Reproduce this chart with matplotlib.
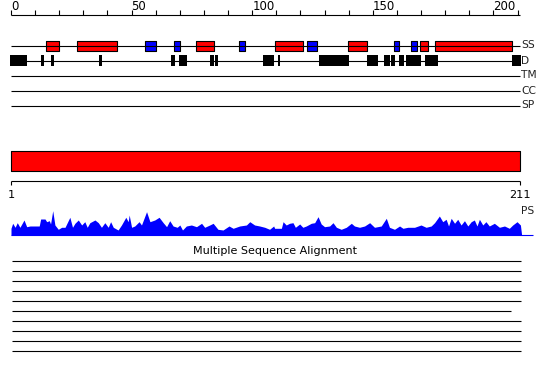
import matplotlib
matplotlib.use('Agg')
import matplotlib.pyplot as plt

# sequence length and ruler
seq_len = 211
ruler_ticks = list(range(0, 211, 10))
ruler_labels = [0, 50, 100, 150, 200]

# feature tracks
track_names = ['SS', 'D', 'TM', 'CC', 'SP']
helix = [(14.5, 19.8), (27.5, 43.8), (76.7, 84.0), (109.5, 120.9), (139.8, 147.7),
         (169.7, 173.0), (175.9, 207.8)]
strand = [(55.6, 60.0), (67.7, 70.1), (94.7, 97.0), (122.8, 126.7), (158.9, 161.0),
          (165.8, 168.3)]
disorder = [(-0.4, 6.5), (12.4, 13.6), (16.6, 17.7), (36.5, 37.6), (66.3, 67.9),
            (69.7, 72.8), (82.5, 84.0), (84.6, 85.8), (104.5, 109.0), (110.6, 111.6),
            (127.8, 140.0), (147.6, 152.0), (154.6, 157.1), (157.5, 159.2),
            (160.9, 162.9), (163.8, 169.9), (171.6, 176.9), (207.7, 211.3)]

# domain
dom_start, dom_end = 1, 211

# PS profile
ps_pos = [0, 0.7, 1.7, 2.6, 3.7, 5.4, 6.5, 7.9, 11.7, 12.3, 14.1, 14.8, 15.9, 16.4, 17.3,
          18.2, 19.6, 21.0, 22.4, 24.4, 25.5, 26.5, 27.9, 29.3, 30.6, 31.6, 32.7, 34.8,
          36.2, 37.5, 38.9, 40.3, 41.3, 42.4, 44.4, 45.8, 47.6, 48.6, 49.0, 50.0, 51.3,
          53.1, 54.1, 56.2, 57.6, 59.6, 61.4, 63.1, 64.5, 65.8, 67.2, 68.9, 70.0, 71.1,
          72.7, 74.8, 76.9, 79.0, 80.3, 82.4, 83.8, 85.8, 87.9, 90.4, 92.1, 94.8, 97.6,
          99.0, 101.0, 103.1, 105.2, 107.2, 108.9, 109.3, 112.1, 112.8, 114.1, 115.5,
          116.9, 117.9, 119.7, 121.0, 122.4, 124.5, 125.9, 127.3, 128.6, 130.0, 132.1,
          133.5, 134.9, 136.9, 139.0, 141.1, 142.4, 144.5, 146.6, 148.7, 150.7, 153.5,
          155.6, 156.9, 159.0, 161.1, 162.5, 164.5, 167.3, 170.0, 172.1, 174.2, 175.6,
          177.6, 179.0, 180.4, 181.4, 182.5, 183.9, 185.2, 186.6, 188.0, 189.4, 190.8,
          192.1, 193.2, 194.2, 195.6, 196.9, 198.3, 200.4, 202.5, 204.6, 206.6, 208.0,
          209.8, 211.2, 211.7]
ps_val = [6.7, 11.7, 7.7, 12.3, 7.7, 15, 8.3, 9, 9, 16, 16, 13.3, 14.3, 11, 24.3,
          10, 5.7, 7.7, 7.7, 17.7, 7.7, 11.7, 15, 10, 13.3, 7.7, 12.3, 15,
          12.3, 7.7, 12.3, 7.7, 13.3, 7.7, 5, 10, 17.7, 13.3, 20, 7.7, 9,
          13.3, 10, 23.3, 13.3, 15, 17.7, 12.3, 8.3, 14.3, 9, 7.7, 10, 5,
          9, 10, 8.3, 11.7, 7.7, 10, 11.7, 5.7, 5, 9, 6.7, 9, 10,
          13.3, 10, 9, 7.7, 5.7, 9, 6.7, 6.7, 13.3, 10, 11.7,
          12.3, 7.7, 11, 7.7, 9, 11.7, 12.3, 18.3, 11, 8.3, 9,
          12.3, 7.7, 5.7, 7.7, 11.7, 9, 7.7, 9, 12.3, 7.7, 9,
          16.7, 7.7, 5.7, 9, 6.7, 7.7, 7.7, 10, 7.7, 9, 12.3,
          19, 13.3, 15.7, 9, 16.7, 11.7, 15.7, 10, 14.3, 9, 13.3,
          15, 9, 15.7, 10, 13.3, 9, 11.7, 7.7, 9, 6.7, 10,
          13.3, 10, 0]

# alignment
aln_title = 'Multiple Sequence Alignment'
aln_end = [211.3, 211.3, 211.3, 211.3, 211.3, 207.3, 211.3, 211.3, 211.3, 211.3]

px_per_res = 2.412
fig = plt.figure(figsize=(5.5, 3.8), dpi=100)
ax = fig.add_axes([0, 0, 1, 1])
ax.set_xlim(-11 / px_per_res, (550 - 11) / px_per_res)
ax.set_ylim(380, 0)
ax.axis('off')

lw = 0.8
red = '#ff0000'
blue = '#0000ff'

# ruler
ax.hlines(14.7, 0, seq_len, color='k', lw=lw)
ax.vlines(ruler_ticks, 10.3, 14.7, color='k', lw=lw)
for t in ruler_labels:
    ax.text(t, 10.3, str(t), ha='left', va='baseline', fontsize=8.5)

# tracks
for i, name in enumerate(track_names):
    y = 45.5 + 15 * i
    ax.hlines(y, 0, seq_len, color='k', lw=lw)
    ax.text(seq_len + 0.4, y, name, ha='left', va='center', fontsize=7.7, color='#222222')

ax.broken_barh([(s, e - s) for s, e in helix], (40.5, 10), facecolors=red,
               edgecolors='k', lw=lw)
ax.broken_barh([(s, e - s) for s, e in strand], (40.5, 10), facecolors=blue,
               edgecolors='k', lw=lw)
ax.broken_barh([(s, e - s) for s, e in disorder], (55.2, 10.6), facecolors='k',
               edgecolors='k', lw=0)

# domain bar
ax.broken_barh([(dom_start - 1, dom_end - dom_start + 1)], (150.5, 20), facecolors=red,
               edgecolors='k', lw=lw)
ax.hlines(180.7, dom_start - 1, dom_end, color='k', lw=lw)
ax.vlines([dom_start - 1, dom_end], 180.7, 185, color='k', lw=lw)
ax.text(dom_start - 1, 195, str(dom_start), ha='center', va='center', fontsize=8.2)
ax.text(dom_end, 195, str(dom_end), ha='center', va='center', fontsize=8.2)
ax.text(seq_len + 0.4, 211, 'PS', ha='left', va='center', fontsize=7.7, color='#222222')

# PS profile
ax.fill_between(ps_pos, [235 - v for v in ps_val], 235, color=blue, lw=0)
ax.hlines(235, 0, 216.5, color=blue, lw=lw)

# alignment
ax.text(109.3, 251, aln_title, ha='center', va='center', fontsize=8)
for i, e in enumerate(aln_end):
    ax.hlines(260.5 + 10 * i, 0.4, e, color='k', lw=lw)

fig.savefig('out.png', dpi=100)
